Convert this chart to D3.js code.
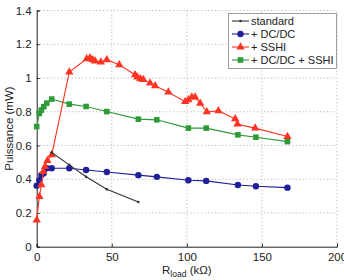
<!DOCTYPE html>
<html>
<head>
<meta charset="utf-8">
<script src="https://cdn.jsdelivr.net/npm/d3@7"></script>
<style>
  body { margin: 0; background: #fff; }
  svg text { font-family: "Liberation Sans", Arial, sans-serif; fill: #222; }
</style>
</head>
<body>
<svg id="chart" width="344" height="280"></svg>
<script>
// data
var xTicks = [0, 50, 100, 150, 200];
var yTicks = [0, 0.2, 0.4, 0.6, 0.8, 1, 1.2, 1.4];
var yTickLabels = ["0", "0.2", "0.4", "0.6", "0.8", "1", "1.2", "1.4"];

var rStd = [10, 21.7, 32.9, 46.7, 67.7];
var pStd = [0.558, 0.485, 0.415, 0.34, 0.265];

var rDc = [0, 1.8, 3.1, 4.7, 6.7, 10, 21.7, 32.9, 46.7, 67.7, 80, 101, 112.9, 134, 146, 167];
var pDc = [0.362, 0.394, 0.425, 0.436, 0.465, 0.465, 0.465, 0.455, 0.443, 0.424, 0.414, 0.394, 0.39, 0.366, 0.358, 0.35];

var rSshi = [0, 1.8, 3.1, 4.4, 5.5, 7.1, 10, 21.7, 33.3, 35.5, 37.3, 38.9, 42.7, 46.7, 55, 65.5, 67, 69, 71,
             75.5, 78.9, 87.7, 98.9, 101, 103.3, 105.5, 108.9, 113.3, 121, 132.2, 133.7, 145.5, 167];
var pSshi = [0.158, 0.297, 0.366, 0.445, 0.475, 0.51, 0.544, 1.035, 1.114, 1.12, 1.108, 1.10, 1.094, 1.108, 1.078, 1.019, 1.005, 0.995, 0.99,
             0.97, 0.954, 0.916, 0.86, 0.87, 0.887, 0.887, 0.85, 0.80, 0.805, 0.758, 0.726, 0.703, 0.653];

var rMix = [0, 1.8, 3.1, 4.7, 6.7, 10, 21.7, 32.9, 46.7, 67.7, 80, 101, 112.9, 134, 146, 167];
var pMix = [0.712, 0.79, 0.81, 0.83, 0.851, 0.875, 0.845, 0.831, 0.801, 0.756, 0.752, 0.703, 0.703, 0.663, 0.649, 0.623];

var seriesNames = ["standard", "+ DC/DC", "+ SSHI", "+ DC/DC + SSHI"];
var seriesColors = ["#333333", "#1f1f99", "#ff3322", "#2e9a38"];
var seriesMarkers = ["dot", "circle", "triangle", "square"];

var svg = d3.select("#chart");

var x = d3.scaleLinear().domain([0, 200]).range([36.7, 337]);
var y = d3.scaleLinear().domain([0, 1.4]).range([246.7, 10.5]);

//Dotted grid
svg.append("g").selectAll("line.gy")
    .data(yTicks.slice(1))
    .enter().append("line")
    .attr("x1", x(0)).attr("x2", x(200))
    .attr("y1", function(d){ return y(d); }).attr("y2", function(d){ return y(d); })
    .attr("stroke", "#999").attr("stroke-width", 0.8).attr("stroke-dasharray", "1,2.5");

svg.append("g").selectAll("line.gx")
    .data(xTicks.slice(1))
    .enter().append("line")
    .attr("y1", y(0)).attr("y2", y(1.4))
    .attr("x1", function(d){ return x(d); }).attr("x2", function(d){ return x(d); })
    .attr("stroke", "#999").attr("stroke-width", 0.8).attr("stroke-dasharray", "1,2.5");

//Axes
var xAxis = d3.axisBottom(x).tickValues(xTicks).tickSize(-3).tickPadding(6);
var gx = svg.append("g").attr("transform", "translate(0," + y(0) + ")").call(xAxis);
gx.select(".domain").attr("stroke", "#222");
gx.selectAll(".tick line").attr("stroke", "#222");
gx.selectAll("text").attr("font-size", 11.5).attr("fill", "#222");

var yAxis = d3.axisLeft(y).tickValues(yTicks).tickSize(-3).tickPadding(5)
    .tickFormat(function(d, i){ return yTickLabels[i]; });
var gy = svg.append("g").attr("transform", "translate(" + x(0) + ",0)").call(yAxis);
gy.select(".domain").attr("stroke", "#222");
gy.selectAll(".tick line").attr("stroke", "#222");
gy.selectAll("text").attr("font-size", 11.5).attr("fill", "#222");

//Axis titles
svg.append("text")
    .attr("transform", "translate(13," + y(0.7) + ") rotate(-90)")
    .attr("text-anchor", "middle")
    .attr("font-size", 11.5)
    .text("Puissance (mW)");

var xt = svg.append("text")
    .attr("x", x(100)).attr("y", 274)
    .attr("text-anchor", "middle")
    .attr("font-size", 11.5);
xt.append("tspan").text("R");
xt.append("tspan").attr("font-size", 8.5).attr("dy", 3).text("load");
xt.append("tspan").attr("dy", -3).text(" (k\u03A9)");

//Markers
function drawMarker(g, kind, color, cx, cy) {
    if (kind == "circle") {
        g.append("circle").attr("cx", cx).attr("cy", cy).attr("r", 3.2).attr("fill", color);
    } else if (kind == "square") {
        g.append("rect").attr("x", cx - 2.8).attr("y", cy - 2.8).attr("width", 5.6).attr("height", 5.6).attr("fill", color);
    } else if (kind == "triangle") {
        g.append("path").attr("d", d3.symbol(d3.symbolTriangle, 30)()).attr("transform", "translate(" + cx + "," + cy + ")").attr("fill", color);
    } else {
        g.append("circle").attr("cx", cx).attr("cy", cy).attr("r", 1.3).attr("fill", color);
    }
}

var line = d3.line()
    .x(function(d){ return x(d[0]); })
    .y(function(d){ return y(d[1]); });

var allSeries = [
    d3.zip(rStd, pStd),
    d3.zip(rDc, pDc),
    d3.zip(rSshi, pSshi),
    d3.zip(rMix, pMix)
];

//Draw order: green, blue, red, black on top of red near the peak
[3, 1, 2, 0].forEach(function(i) {
    var g = svg.append("g");
    g.append("path")
        .datum(allSeries[i])
        .attr("d", line)
        .attr("fill", "none")
        .attr("stroke", seriesColors[i])
        .attr("stroke-width", 1.1);
    allSeries[i].forEach(function(d) {
        drawMarker(g, seriesMarkers[i], seriesColors[i], x(d[0]), y(d[1]));
    });
});

//Legend
var lg = svg.append("g");
lg.append("rect")
    .attr("x", 228.5).attr("y", 13.5).attr("width", 108).attr("height", 55)
    .attr("fill", "#fff").attr("stroke", "#888").attr("stroke-width", 0.8);

seriesNames.forEach(function(name, i) {
    var ly = 21 + i * 13;
    lg.append("line")
        .attr("x1", 232).attr("x2", 249)
        .attr("y1", ly).attr("y2", ly)
        .attr("stroke", seriesColors[i]).attr("stroke-width", 1.1);
    drawMarker(lg, seriesMarkers[i], seriesColors[i], 240.5, ly);
    lg.append("text")
        .attr("x", 251).attr("y", ly + 4)
        .attr("font-size", 11)
        .text(name);
});
</script>
</body>
</html>
